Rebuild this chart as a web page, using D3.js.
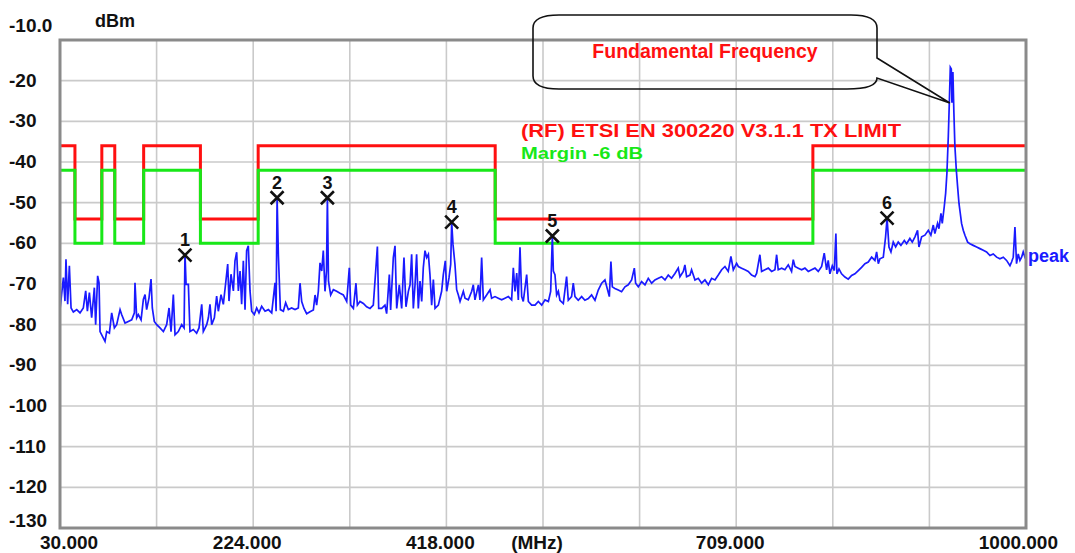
<!DOCTYPE html>
<html>
<head>
<meta charset="utf-8">
<script src="https://cdn.jsdelivr.net/npm/d3@7"></script>
<style>
html, body { margin: 0; padding: 0; background: #fff; }
svg { display: block; font-family: "Liberation Sans", Arial, sans-serif; }
</style>
</head>
<body>
<svg id="chart" width="1075" height="553"></svg>
<script>
// spectrum scan, peak detector: [MHz, dBm]
var trace = [
  [30.0,-76.3],[33.4,-68.4],[35.0,-74.2],[36.0,-63.9],[37.7,-75.0],[39.4,-65.5],[41.1,-75.9],[43.4,-76.9],[46.8,-76.3],[50.1,-77.1],
  [53.4,-75.9],[55.8,-71.7],[57.5,-76.7],[59.5,-72.1],[61.8,-78.3],[64.5,-70.9],[65.8,-80.0],[67.8,-68.0],[69.2,-69.7],[70.2,-81.7],
  [71.9,-82.5],[75.2,-84.1],[76.9,-81.7],[79.6,-82.1],[81.9,-77.1],[84.6,-80.8],[86.9,-80.0],[90.3,-76.3],[91.9,-77.5],[95.3,-79.6],
  [98.6,-79.2],[102.0,-78.8],[104.7,-77.1],[105.3,-69.7],[107.0,-78.3],[108.7,-77.5],[111.4,-78.8],[113.7,-73.8],[115.4,-72.6],[117.0,-76.3],
  [119.4,-73.4],[121.4,-68.8],[122.7,-75.9],[124.7,-79.2],[127.1,-80.0],[130.4,-80.8],[133.8,-81.7],[137.1,-80.0],[139.5,-75.9],[141.5,-81.7],
  [143.8,-72.6],[145.5,-82.5],[148.8,-81.7],[152.2,-80.0],[154.6,-80.8],[155.5,-62.5],[156.6,-70.1],[158.9,-70.1],[160.5,-81.7],[163.9,-81.2],
  [167.2,-82.1],[169.6,-80.8],[172.3,-75.0],[173.9,-81.7],[177.3,-80.0],[179.0,-78.3],[180.6,-75.0],[182.3,-80.0],[185.0,-78.3],[187.3,-73.0],
  [189.0,-76.7],[191.7,-72.6],[194.0,-75.0],[196.4,-69.7],[198.4,-65.1],[199.7,-74.2],[201.7,-67.6],[204.1,-71.7],[205.7,-64.3],[207.4,-62.2],
  [209.1,-71.7],[210.8,-66.8],[212.4,-75.0],[214.1,-64.3],[215.8,-76.3],[217.4,-61.8],[219.1,-60.6],[220.8,-71.7],[222.5,-76.7],[225.1,-77.5],
  [227.5,-75.9],[229.8,-77.1],[232.5,-75.5],[235.9,-76.7],[239.2,-76.3],[242.6,-77.1],[245.9,-69.7],[247.0,-76.7],[248.0,-48.8],[249.3,-63.1],
  [251.3,-76.3],[254.3,-76.7],[256.6,-74.6],[259.3,-76.3],[262.6,-75.9],[266.0,-76.3],[269.3,-75.9],[271.0,-69.8],[272.7,-74.3],[275.0,-76.0],
  [277.7,-77.3],[281.0,-76.8],[284.4,-76.4],[286.1,-72.7],[287.7,-75.2],[289.4,-71.8],[291.1,-64.8],[292.8,-66.8],[294.4,-61.8],[296.1,-71.8],
  [297.6,-66.8],[298.5,-48.8],[299.6,-69.3],[301.8,-72.7],[304.5,-71.4],[307.8,-71.8],[311.2,-72.3],[314.5,-72.7],[317.9,-74.3],[320.5,-66.0],
  [321.9,-75.2],[324.6,-76.0],[327.2,-69.8],[328.6,-75.2],[331.2,-74.3],[334.6,-74.8],[337.9,-75.6],[341.3,-76.0],[344.6,-75.2],[348.7,-60.8],
  [350.0,-76.0],[353.0,-76.0],[356.3,-75.2],[358.0,-77.3],[360.7,-67.7],[362.0,-76.4],[364.7,-63.5],[366.4,-60.6],[368.1,-76.0],[370.7,-70.2],
  [373.1,-76.0],[375.4,-63.5],[377.4,-75.6],[379.8,-71.8],[381.5,-70.2],[383.1,-62.7],[384.8,-76.0],[386.5,-70.2],[388.1,-62.7],[389.8,-76.0],
  [391.5,-69.3],[393.2,-74.3],[394.8,-66.0],[396.5,-61.8],[398.2,-63.5],[399.9,-62.7],[401.5,-67.7],[403.2,-75.2],[404.9,-68.9],[406.6,-76.0],
  [409.9,-75.2],[413.2,-71.8],[414.9,-67.7],[416.9,-64.3],[418.3,-71.8],[420.6,-68.5],[422.3,-65.2],[423.3,-54.8],[424.6,-60.2],[426.6,-65.2],
  [428.3,-71.4],[430.0,-72.7],[431.7,-74.3],[435.0,-71.8],[436.7,-73.5],[440.0,-73.9],[443.4,-71.8],[445.0,-70.2],[446.7,-73.9],[450.1,-70.2],
  [451.7,-73.9],[453.4,-63.5],[455.1,-73.9],[458.4,-72.7],[461.8,-71.4],[463.4,-73.5],[466.8,-73.1],[470.1,-73.5],[473.5,-73.9],[476.8,-73.5],
  [480.2,-73.1],[483.5,-73.9],[485.2,-66.0],[486.9,-71.8],[488.6,-67.3],[490.2,-73.9],[491.9,-61.0],[493.6,-73.1],[495.2,-74.3],[498.6,-67.7],
  [500.3,-74.3],[503.6,-75.2],[507.0,-75.2],[510.3,-74.3],[513.7,-75.2],[517.0,-73.9],[520.4,-74.3],[522.7,-71.8],[524.4,-58.2],[525.4,-66.8],
  [527.0,-67.7],[528.7,-72.7],[530.4,-71.8],[532.0,-74.0],[535.4,-74.8],[538.7,-68.2],[540.4,-74.0],[543.7,-73.1],[545.4,-69.8],[547.1,-73.1],
  [550.4,-74.0],[553.8,-73.1],[557.1,-74.0],[560.5,-73.6],[563.8,-72.7],[567.2,-74.0],[570.5,-71.5],[573.9,-69.8],[577.2,-69.0],[579.9,-71.5],
  [581.6,-73.1],[583.2,-64.5],[584.6,-70.7],[587.2,-71.1],[590.6,-71.5],[593.9,-71.9],[597.3,-70.7],[600.6,-70.2],[604.0,-69.0],[606.7,-66.1],
  [608.0,-69.8],[610.7,-70.7],[614.0,-69.4],[617.4,-70.2],[620.7,-68.6],[624.1,-69.8],[627.4,-69.0],[630.8,-68.6],[634.1,-68.2],[637.5,-69.0],
  [640.8,-67.8],[644.1,-68.6],[647.5,-67.4],[650.8,-66.1],[652.5,-68.2],[655.9,-66.9],[657.5,-65.3],[659.2,-68.2],[662.6,-67.8],[664.2,-66.5],
  [667.6,-69.0],[670.9,-68.6],[674.3,-69.8],[677.6,-69.0],[681.0,-70.2],[684.3,-68.6],[687.7,-69.0],[691.0,-67.8],[694.4,-66.5],[697.7,-65.7],
  [701.0,-66.9],[703.7,-63.2],[706.1,-66.5],[709.4,-64.9],[711.1,-65.7],[714.4,-66.1],[717.8,-66.5],[721.1,-66.9],[724.5,-67.8],[727.8,-68.2],
  [729.5,-67.4],[732.8,-62.8],[734.5,-66.9],[737.9,-66.5],[741.2,-66.1],[744.6,-66.9],[747.9,-66.5],[749.6,-62.8],[751.2,-66.5],[754.6,-66.1],
  [757.9,-66.5],[761.3,-65.3],[764.6,-66.9],[766.3,-64.0],[768.0,-65.7],[771.3,-66.1],[774.7,-66.5],[778.0,-66.1],[781.4,-66.9],[784.7,-66.5],
  [788.1,-66.1],[791.4,-66.9],[794.8,-65.7],[797.4,-62.4],[799.8,-66.5],[801.4,-64.2],[803.1,-67.5],[805.5,-65.5],[807.5,-66.7],[809.1,-57.6],
  [810.1,-67.5],[812.2,-66.3],[814.8,-67.5],[818.2,-68.3],[821.5,-68.8],[824.9,-67.9],[828.2,-67.5],[831.6,-66.7],[834.9,-65.9],[838.3,-65.0],
  [841.6,-64.6],[845.0,-63.4],[848.3,-64.2],[850.0,-62.1],[851.7,-65.0],[853.3,-63.8],[856.7,-63.4],[859.0,-58.4],[860.5,-53.8],[862.4,-60.9],
  [864.4,-62.1],[866.7,-59.7],[869.1,-60.9],[871.7,-59.7],[874.4,-60.5],[877.8,-59.3],[880.1,-60.1],[883.4,-58.8],[885.8,-59.7],[888.5,-58.4],
  [891.1,-56.8],[892.5,-60.9],[895.2,-58.4],[898.5,-58.0],[901.9,-56.8],[904.5,-58.0],[906.9,-55.5],[908.5,-57.6],[911.2,-55.1],[912.6,-56.4],
  [914.6,-52.6],[915.9,-55.1],[917.9,-51.0],[919.3,-47.7],[920.6,-42.7],[922.0,-33.6],[923.0,-25.4],[924.0,-16.7],[925.0,-17.1],[925.6,-25.4],
  [926.6,-17.9],[927.6,-27.9],[928.6,-36.1],[930.0,-41.9],[931.3,-46.0],[932.7,-50.2],[934.0,-52.6],[935.3,-55.1],[937.0,-56.8],[938.7,-58.0],
  [941.4,-59.7],[943.7,-60.1],[947.0,-60.5],[950.4,-60.9],[953.7,-61.3],[957.1,-61.7],[960.4,-62.1],[963.8,-63.0],[967.1,-62.6],[970.5,-63.4],
  [973.8,-63.8],[977.2,-63.4],[980.5,-64.2],[983.9,-65.5],[985.5,-64.6],[987.2,-63.4],[988.9,-56.0],[990.5,-65.0],[992.2,-62.6],[993.9,-64.2],
  [995.6,-63.4],[997.2,-62.1],[998.9,-63.4],[1000.0,-63.0]
];

// limit mask: band edges (MHz) and level of each band (dBm)
var limitEdges = [30, 45, 72, 85, 114, 171, 229, 467, 786, 1000];
var limitLevels = [-36, -54, -36, -54, -36, -54, -36, -54, -36];
var marginDb = -6;

// markers
var markerLabels = ["1", "2", "3", "4", "5", "6"];
var markerFreq = [155.5, 248.0, 298.5, 423.3, 524.4, 860.5];
var markerDb = [-62.9, -48.8, -48.8, -54.8, -58.2, -53.8];

// fundamental pointed at by the callout
var fundamentalFreq = 924;
var fundamentalDb = -25.5;

// axes
var yTickValues = [-10, -20, -30, -40, -50, -60, -70, -80, -90, -100, -110, -120, -130];
var yTickLabels = ["-10.0", "-20", "-30", "-40", "-50", "-60", "-70", "-80", "-90", "-100", "-110", "-120", "-130"];
var xTickValues = [30, 224, 418, 515, 709, 1000];
var xTickLabels = ["30.000", "224.000", "418.000", "(MHz)", "709.000", "1000.000"];
var xGridStep = 97;

var limitName = "(RF) ETSI EN 300220 V3.1.1 TX LIMIT";
var marginName = "Margin -6 dB";

var RED = "#ff1010";
var GREEN = "#18e818";
var BLUE = "#1a1aff";

var svg = d3.select("#chart");
var plotL = 60, plotR = 1026, plotT = 40, plotB = 528;

var xScale = d3.scaleLinear().domain([30, 1000]).range([plotL, plotR]);
var yScale = d3.scaleLinear().domain([-130, -10]).range([plotB, plotT]);

// grid
var grid = svg.append("g").attr("class", "grid");
grid.selectAll("line.v").data(d3.range(30 + xGridStep, 1000, xGridStep)).enter().append("line")
  .attr("x1", function(d) { return xScale(d); })
  .attr("x2", function(d) { return xScale(d); })
  .attr("y1", plotT).attr("y2", plotB)
  .attr("stroke", "#cacaca").attr("stroke-width", 1.6);
grid.selectAll("line.h").data(yTickValues.slice(1, -1)).enter().append("line")
  .attr("x1", plotL).attr("x2", plotR)
  .attr("y1", function(d) { return yScale(d); })
  .attr("y2", function(d) { return yScale(d); })
  .attr("stroke", "#cacaca").attr("stroke-width", 1.6);

// limit + margin step lines
var limitPts = limitLevels.map(function(v, i) { return [limitEdges[i], v]; });
limitPts.push([limitEdges[limitEdges.length - 1], limitLevels[limitLevels.length - 1]]);
var stepLine = d3.line()
  .x(function(d) { return xScale(d[0]); })
  .y(function(d) { return yScale(d[1]); })
  .curve(d3.curveStepAfter);
svg.append("path").datum(limitPts)
  .attr("d", stepLine).attr("fill", "none")
  .attr("stroke", RED).attr("stroke-width", 3);
svg.append("path").datum(limitPts.map(function(p) { return [p[0], p[1] + marginDb]; }))
  .attr("d", stepLine).attr("fill", "none")
  .attr("stroke", GREEN).attr("stroke-width", 3);

// trace
var traceLine = d3.line()
  .x(function(d) { return xScale(d[0]); })
  .y(function(d) { return yScale(d[1]); });
svg.append("path").datum(trace)
  .attr("d", traceLine).attr("fill", "none")
  .attr("stroke", BLUE).attr("stroke-width", 1.7)
  .attr("stroke-linejoin", "miter");

// plot frame
svg.append("rect")
  .attr("x", plotL).attr("y", plotT)
  .attr("width", plotR - plotL).attr("height", plotB - plotT)
  .attr("fill", "none").attr("stroke", "#8a8a8a").attr("stroke-width", 3);

// markers
var mk = svg.append("g").selectAll("g").data(markerLabels).enter().append("g")
  .attr("transform", function(d, i) {
    return "translate(" + xScale(markerFreq[i]) + "," + yScale(markerDb[i]) + ")";
  });
mk.append("path")
  .attr("d", "M-6.5,-6.5L6.5,6.5M6.5,-6.5L-6.5,6.5")
  .attr("stroke", "#111").attr("stroke-width", 2.6).attr("fill", "none");
mk.append("text")
  .attr("x", 0).attr("y", -9)
  .attr("text-anchor", "middle")
  .attr("font-size", "18px").attr("font-weight", "bold")
  .attr("fill", "#111")
  .text(function(d) { return d; });

// y labels
svg.append("g").selectAll("text").data(yTickValues).enter().append("text")
  .attr("x", 9)
  .attr("y", function(d, i) { return i === 0 ? 32 : Math.min(yScale(d) + 6, 527); })
  .attr("font-size", "19px").attr("font-weight", "bold").attr("fill", "#111")
  .text(function(d, i) { return yTickLabels[i]; });
svg.append("text")
  .attr("x", 95).attr("y", 27)
  .attr("font-size", "18px").attr("font-weight", "bold").attr("fill", "#111")
  .text("dBm");

// x labels
svg.append("g").selectAll("text").data(xTickValues).enter().append("text")
  .attr("y", 549)
  .attr("font-size", "19px").attr("font-weight", "bold").attr("fill", "#111")
  .attr("text-anchor", "middle")
  .text(function(d, i) { return xTickLabels[i]; })
  .each(function(d) {
    var w = this.getComputedTextLength();
    var cx = xScale(d) - 6;
    cx = Math.max(cx, 40 + w / 2);
    cx = Math.min(cx, 1058 - w / 2);
    d3.select(this).attr("x", cx);
  });

// legend
svg.append("text")
  .attr("x", 521).attr("y", 137)
  .attr("font-size", "18px").attr("font-weight", "bold").attr("fill", RED)
  .attr("textLength", 380).attr("lengthAdjust", "spacingAndGlyphs")
  .text(limitName);
svg.append("text")
  .attr("x", 521).attr("y", 159)
  .attr("font-size", "17px").attr("font-weight", "bold").attr("fill", GREEN)
  .attr("textLength", 122).attr("lengthAdjust", "spacingAndGlyphs")
  .text(marginName);

// trace name at right end
svg.append("text")
  .attr("x", plotR + 2).attr("y", yScale(trace[trace.length - 1][1]) + 6)
  .attr("font-size", "18px").attr("font-weight", "bold").attr("fill", BLUE)
  .text("peak");

// callout
var tipX = xScale(fundamentalFreq) - 0.5, tipY = yScale(fundamentalDb);
var bx0 = 533, bx1 = 877, by0 = 15, by1 = 89, rx = 26, ry = 13;
var callout = "M" + (bx0 + rx) + "," + by0 +
  "L" + (bx1 - rx) + "," + by0 +
  "Q" + bx1 + "," + by0 + " " + bx1 + "," + (by0 + ry) +
  "L" + bx1 + "," + 58 +
  "L" + tipX + "," + tipY +
  "L" + bx1 + "," + 78 +
  "Q" + bx1 + "," + by1 + " " + (bx1 - rx - 4) + "," + by1 +
  "L" + (bx0 + rx) + "," + by1 +
  "Q" + bx0 + "," + by1 + " " + bx0 + "," + (by1 - ry) +
  "L" + bx0 + "," + (by0 + ry) +
  "Q" + bx0 + "," + by0 + " " + (bx0 + rx) + "," + by0 + "Z";
svg.append("path")
  .attr("d", callout)
  .attr("fill", "none").attr("stroke", "#111").attr("stroke-width", 1.6);
svg.append("text")
  .attr("x", 705).attr("y", 58)
  .attr("text-anchor", "middle")
  .attr("font-size", "19.5px").attr("font-weight", "bold").attr("fill", RED)
  .text("Fundamental Frequency");
</script>
</body>
</html>
